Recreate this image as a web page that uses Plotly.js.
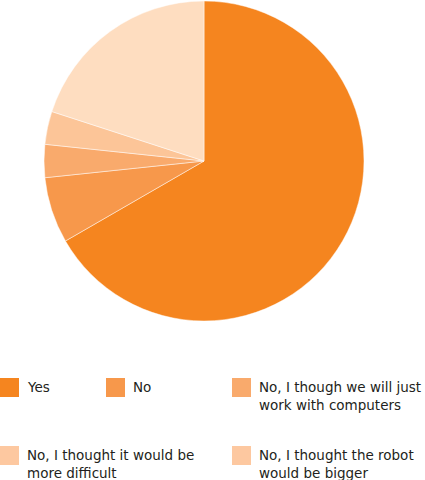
<!DOCTYPE html>
<html>
<head>
<meta charset="utf-8">
<script src="https://cdn.plot.ly/plotly-3.0.1.min.js"></script>
<style>html,body{margin:0;padding:0;background:#fff;}#chart{width:425px;height:480px;}</style>
</head>
<body>
<div id="chart"></div>
<script>
const categories = [
  "Yes",
  "No",
  "No, I though we will just<br>work with computers",
  "No, I thought it would be<br>more difficult",
  "No, I thought the robot<br>would be bigger"
];
const values = [20, 2, 1, 1, 6];
const sliceColors = ["#F5851F", "#F7984B", "#F9AA6C", "#FCC598", "#FEDDC0"];
const legendColors = ["#F5851F", "#F7984B", "#F9AA6C", "#FDC8A0", "#FDC8A0"];

// legend layout (pixel positions inside 425x480 page)
const W = 425, H = 480;
const legendPos = [[0, 378], [106, 378], [232, 378], [0, 446], [232, 446]];
const sw = 19;

const shapes = [];
const annotations = [];
categories.forEach((c, i) => {
  const [x, y] = legendPos[i];
  shapes.push({
    type: "rect", xref: "paper", yref: "paper",
    x0: x / W, x1: (x + sw) / W, y0: 1 - (y + sw) / H, y1: 1 - y / H,
    fillcolor: legendColors[i], line: {width: 0}
  });
  annotations.push({
    xref: "paper", yref: "paper", x: (x + 26) / W, y: 1 - (y + 0) / H,
    xanchor: "left", yanchor: "top", align: "left", showarrow: false,
    borderpad: 0,
    text: c, font: {family: "'DejaVu Sans', sans-serif", size: 13.5, color: "#231F20"}
  });
});

const data = [{
  type: "pie",
  labels: categories,
  values: values,
  sort: false,
  direction: "clockwise",
  rotation: 0,
  textinfo: "none",
  hoverinfo: "none",
  marker: {colors: sliceColors, line: {color: "rgba(255,255,255,0.6)", width: 0.8}},
  domain: {x: [44 / W, 364 / W], y: [1 - 321 / H, 1 - 1 / H]},
  showlegend: false
}];

const layout = {
  width: W, height: H,
  margin: {l: 0, r: 0, t: 0, b: 0},
  paper_bgcolor: "#fff",
  showlegend: false,
  shapes: shapes,
  annotations: annotations
};

Plotly.newPlot("chart", data, layout, {displayModeBar: false, staticPlot: true});
</script>
</body>
</html>
